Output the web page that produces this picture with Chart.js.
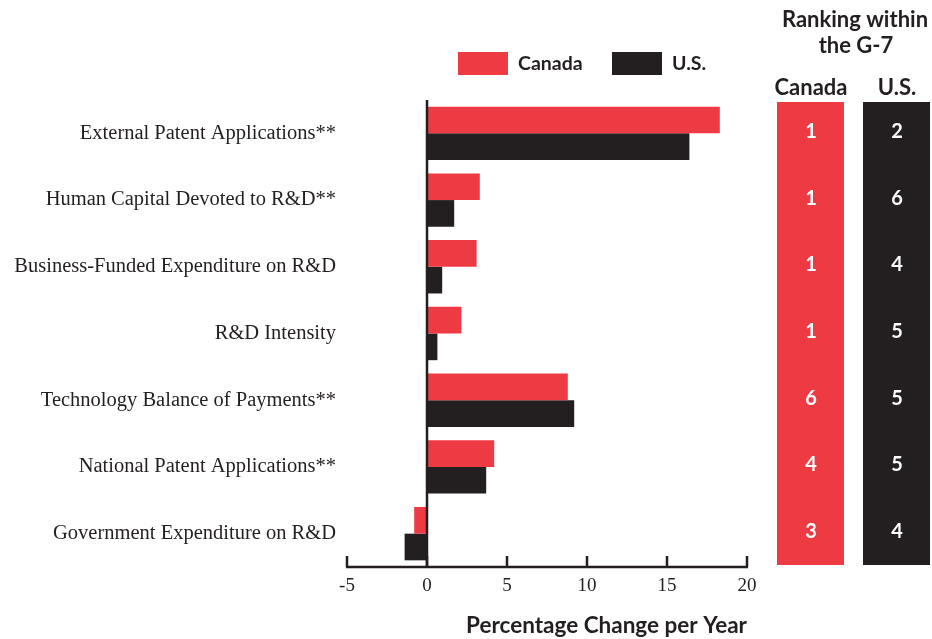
<!DOCTYPE html>
<html>
<head>
<meta charset="utf-8">
<script src="https://cdn.jsdelivr.net/npm/chart.js@4.4.0/dist/chart.umd.min.js"></script>
<style>
  html, body { margin: 0; padding: 0; background: #fff; }
  #wrap { width: 932px; height: 639px; position: relative; }
</style>
</head>
<body>
<div id="wrap"><canvas id="myChart"></canvas></div>
<script>
const ctx = document.getElementById('myChart');

// data
const labels = [
    'External Patent Applications**',
    'Human Capital Devoted to R&D**',
    'Business-Funded Expenditure on R&D',
    'R&D Intensity',
    'Technology Balance of Payments**',
    'National Patent Applications**',
    'Government Expenditure on R&D'
];
const canada = [18.3, 3.3, 3.1, 2.15, 8.8, 4.2, -0.8];
const us = [16.4, 1.7, 0.95, 0.65, 9.2, 3.7, -1.4];
const rankCanada = [1, 1, 1, 1, 6, 4, 3];
const rankUS = [2, 6, 4, 5, 5, 5, 4];
const xTicks = [-5, 0, 5, 10, 15, 20];

const RED = '#EE3A43';
const BLACK = '#231F20';
const SANS = 'Lato, "Open Sans", sans-serif';
const SERIF = '"Liberation Serif", "Times New Roman", serif';

// extra drawing: legend, axis line, zero line, ranking panel
const extras = {
    id: 'extras',
    afterDatasetsDraw(chart) {
        const c = chart.ctx;
        const x = chart.scales.x;
        const y = chart.scales.y;
        const area = chart.chartArea;
        c.save();

        // zero line
        c.strokeStyle = BLACK;
        c.lineWidth = 2.5;
        c.beginPath();
        c.moveTo(x.getPixelForValue(0), area.top);
        c.lineTo(x.getPixelForValue(0), area.bottom);
        c.stroke();

        // bottom axis with ticks pointing up
        c.beginPath();
        c.moveTo(x.getPixelForValue(xTicks[0]) - 1, area.bottom);
        c.lineTo(x.getPixelForValue(xTicks[xTicks.length - 1]) + 1, area.bottom);
        c.stroke();
        xTicks.forEach(t => {
            const px = x.getPixelForValue(t);
            c.beginPath();
            c.moveTo(px, area.bottom);
            c.lineTo(px, area.bottom - 11);
            c.stroke();
        });

        // legend
        c.font = 'bold 19.5px ' + SANS;
        c.textBaseline = 'middle';
        c.textAlign = 'left';
        const items = [[RED, 'Canada', 458], [BLACK, 'U.S.', 612]];
        items.forEach(([col, txt, lx]) => {
            c.fillStyle = col;
            c.fillRect(lx, 52, 50, 23);
            c.fillStyle = BLACK;
            c.fillText(txt, lx + 60, 64);
        });

        // ranking panel
        c.textAlign = 'center';
        c.fillStyle = BLACK;
        c.font = 'bold 22px ' + SANS;
        c.fillText('Ranking within', 855, 20);
        c.fillText('the G-7', 856, 46);
        c.fillText('Canada', 811, 88);
        c.fillText('U.S.', 897, 88);

        c.fillStyle = RED;
        c.fillRect(777, 102, 67, 463);
        c.fillStyle = BLACK;
        c.fillRect(863, 102, 67, 463);

        c.fillStyle = '#fff';
        c.font = 'bold 20px ' + SANS;
        labels.forEach((l, i) => {
            const py = y.getPixelForValue(i);
            c.fillText(String(rankCanada[i]), 811, py - 2);
            c.fillText(String(rankUS[i]), 897, py - 2);
        });
        c.restore();
    }
};

const myChart = new Chart(ctx, {
    type: 'bar',
    data: {
        labels: labels,
        datasets: [{
            label: 'Canada',
            data: canada,
            backgroundColor: RED,
            borderWidth: 0
        }, {
            label: 'U.S.',
            data: us,
            backgroundColor: BLACK,
            borderWidth: 0
        }]
    },
    options: {
        indexAxis: 'y',
        responsive: true,
        maintainAspectRatio: false,
        animation: false,
        devicePixelRatio: 1,
        layout: { padding: { top: 100, right: 185, bottom: 0, left: 0 } },
        datasets: { bar: { categoryPercentage: 0.8, barPercentage: 1.0 } },
        plugins: {
            legend: { display: false },
            tooltip: { enabled: false }
        },
        scales: {
            x: {
                min: -5,
                max: 20,
                grid: { display: false, drawTicks: false },
                border: { display: false },
                afterBuildTicks(s) { s.ticks = xTicks.map(v => ({ value: v })); },
                afterFit(s) { s.height = 72; },
                ticks: {
                    color: BLACK,
                    padding: 8,
                    font: { family: SERIF, size: 19 },
                    maxRotation: 0
                },
                title: {
                    display: true,
                    text: 'Percentage Change per Year',
                    align: 'end',
                    color: BLACK,
                    font: { family: SANS, size: 22.5, weight: 'bold' },
                    padding: { top: 1, bottom: 0 }
                }
            },
            y: {
                grid: { display: false, drawTicks: false },
                border: { display: false },
                afterFit(s) { s.width = 347; },
                ticks: {
                    color: BLACK,
                    padding: 11,
                    font: { family: SERIF, size: 20.5 }
                }
            }
        }
    },
    plugins: [extras]
});
</script>
</body>
</html>
